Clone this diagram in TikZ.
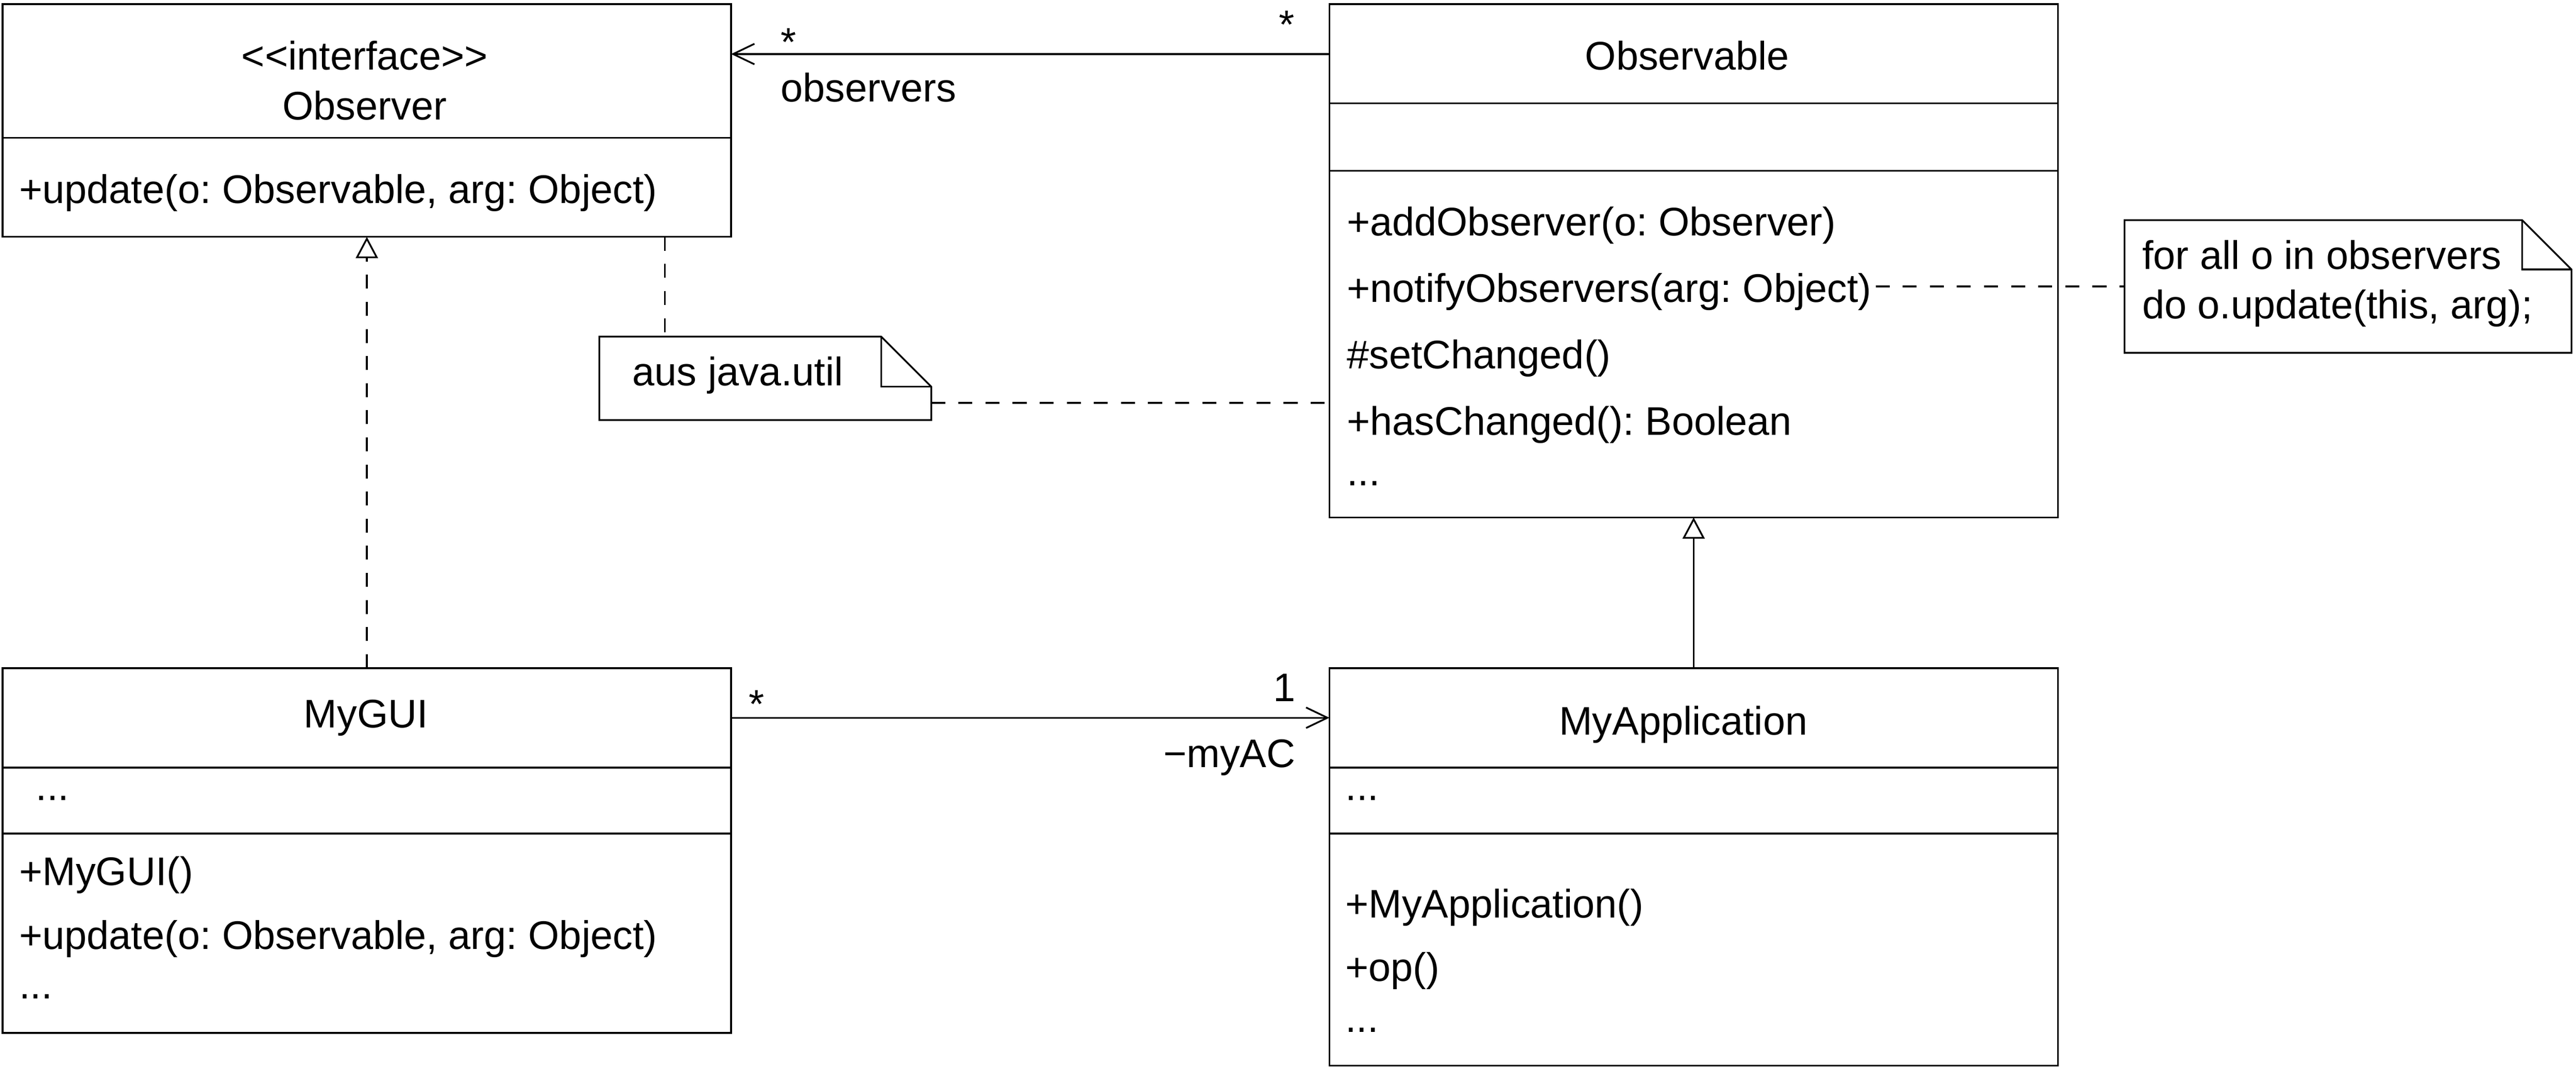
\documentclass[tikz,border=0pt]{standalone}
\usepackage{fontspec}
\setmainfont{Liberation Sans}
\usetikzlibrary{arrows.meta,calc}
\frenchspacing
\begin{document}
\begin{tikzpicture}[x=0.02cm, y=-0.02cm,
  font=\fontsize{13.83pt}{16pt}\selectfont\frenchspacing,
  every node/.style={inner sep=0pt, outer sep=0pt},
  lw/.style={line width=0.6pt},
  classbox/.style={draw, line width=0.6pt, anchor=north west, minimum width=8.87cm},
  notebox/.style={anchor=north west},
  txt/.style={anchor=base west},
  ttl/.style={anchor=base},
  lblr/.style={anchor=base east},
  dashline/.style={line width=0.6pt, dash pattern=on 0.17cm off 0.16cm},
  assoc/.style={line width=0.6pt, -{Straight Barb[length=0.26cm, width=0.25cm]}},
  realize/.style={dashline, -{Triangle[open, length=0.26cm, width=0.27cm]}},
  generalize/.style={line width=0.6pt, -{Triangle[open, length=0.26cm, width=0.27cm]}},
]
\useasboundingbox (0,0) rectangle (1568,650.6);

% ---------- Observer ----------
\node[classbox, minimum height=2.834cm] (observer) at (1.6,2.5) {};
\draw[lw] (observer.west |- 0,83.8) -- (observer.east |- 0,83.8);
\node[ttl] (obsStereo) at (222,42.6) {<\kern0pt<interface>\kern0pt>};
\node[ttl] (obsName) at (222,73) {Observer};
\node[txt] (obsUpdate) at (11.7,123.6) {+update(o: Observable, arg: Object)};

% ---------- Observable ----------
\node[classbox, minimum height=6.25cm] (observable) at (809.2,2.5) {};
\draw[lw] (observable.west |- 0,62.8) -- (observable.east |- 0,62.8);
\draw[lw] (observable.west |- 0,104) -- (observable.east |- 0,104);
\node[ttl] (oblName) at (1027,42.6) {Observable};
\node[txt] (oblAdd) at (819.8,143.5) {+addObserver(o: Observer)};
\node[txt] (notify) at (819.8,183.8) {+notifyObservers(arg: Object)};
\node[txt] (oblSet) at (819.8,224.5) {\#setChanged()};
\node[txt] (oblHas) at (819.8,264.8) {+hasChanged(): Boolean};
\node[txt] (oblMore) at (819.8,295.5) {...};

% ---------- MyGUI ----------
\node[classbox, minimum height=4.442cm] (mygui) at (1.6,406.7) {};
\draw[lw] (mygui.west |- 0,467.3) -- (mygui.east |- 0,467.3);
\draw[lw] (mygui.west |- 0,507.4) -- (mygui.east |- 0,507.4);
\node[ttl] (guiName) at (222.8,443) {MyGUI};
\node[txt] (guiAttr) at (21.8,487.3) {...};
\node[txt] (guiCtor) at (11.7,538.8) {+MyGUI()};
\node[txt] (guiUpdate) at (11.7,577.8) {+update(o: Observable, arg: Object)};
\node[txt] (guiMore) at (11.7,608) {...};

% ---------- MyApplication ----------
\node[classbox, minimum height=4.84cm] (myapp) at (809.2,406.7) {};
\draw[lw] (myapp.west |- 0,467.3) -- (myapp.east |- 0,467.3);
\draw[lw] (myapp.west |- 0,507.4) -- (myapp.east |- 0,507.4);
\node[ttl] (appName) at (1024.6,447.2) {MyApplication};
\node[txt] (appAttr) at (819,487.3) {...};
\node[txt] (appCtor) at (818.9,558.6) {+MyApplication()};
\node[txt] (appOp) at (818.9,597.2) {+op()};
\node[txt] (appMore) at (818.9,628.3) {...};

% ---------- Notes ----------
\node[notebox, minimum width=4.042cm, minimum height=1.016cm] (note1) at (364.8,204.9) {};
\draw[lw] (note1.north west) -- ([xshift=-0.61cm]note1.north east) -- ([yshift=-0.61cm]note1.north east)
  -- (note1.south east) -- (note1.south west) -- cycle;
\draw[lw] ([xshift=-0.61cm]note1.north east) |- ([yshift=-0.61cm]note1.north east);
\node[txt] (note1text) at (385,234.8) {aus java.util};

\node[notebox, minimum width=5.442cm, minimum height=1.616cm] (note2) at (1293.2,134) {};
\draw[lw] (note2.north west) -- ([xshift=-0.6cm]note2.north east) -- ([yshift=-0.6cm]note2.north east)
  -- (note2.south east) -- (note2.south west) -- cycle;
\draw[lw] ([xshift=-0.6cm]note2.north east) |- ([yshift=-0.6cm]note2.north east);
\node[txt] (note2a) at (1304,163.7) {for all o in observers};
\node[txt] (note2b) at (1304,194) {do o.update(this, arg);};

% ---------- Connectors ----------
\coordinate (topAssoc) at ($(observable.north west)+(0,30.4)$);
\draw[assoc] (topAssoc) -- (observer.east |- topAssoc);
\node[txt] (starObs) at (475.3,34) {*};
\node[lblr] (starObl) at (788,23.5) {*};
\node[txt] (rolObs) at (475.3,61.8) {observers};

\coordinate (botAssoc) at ($(mygui.north east)+(0,30.2)$);
\draw[assoc] (botAssoc) -- (myapp.west |- botAssoc);
\node[txt] (starGui) at (455.9,437) {*};
\node[lblr] (oneApp) at (788.5,427) {1};
\node[lblr] (roleAC) at (788.5,467.2) {−myAC};

\draw[realize] (mygui.north) -- (observer.south);
\draw[generalize] (myapp.north) -- (observable.south);

\coordinate (obsNoteTop) at ($(observer.south east)+(-40.4,0)$);
\draw[dashline] (obsNoteTop) -- (note1.north -| obsNoteTop);
\coordinate (note1Right) at ($(note1.south east)+(0,-10.5)$);
\draw[dashline] (note1Right) -- (observable.west |- note1Right);
\draw[dashline] ([xshift=0.05cm]notify.east |- note2.west) -- (note2.west);
\end{tikzpicture}
\end{document}
